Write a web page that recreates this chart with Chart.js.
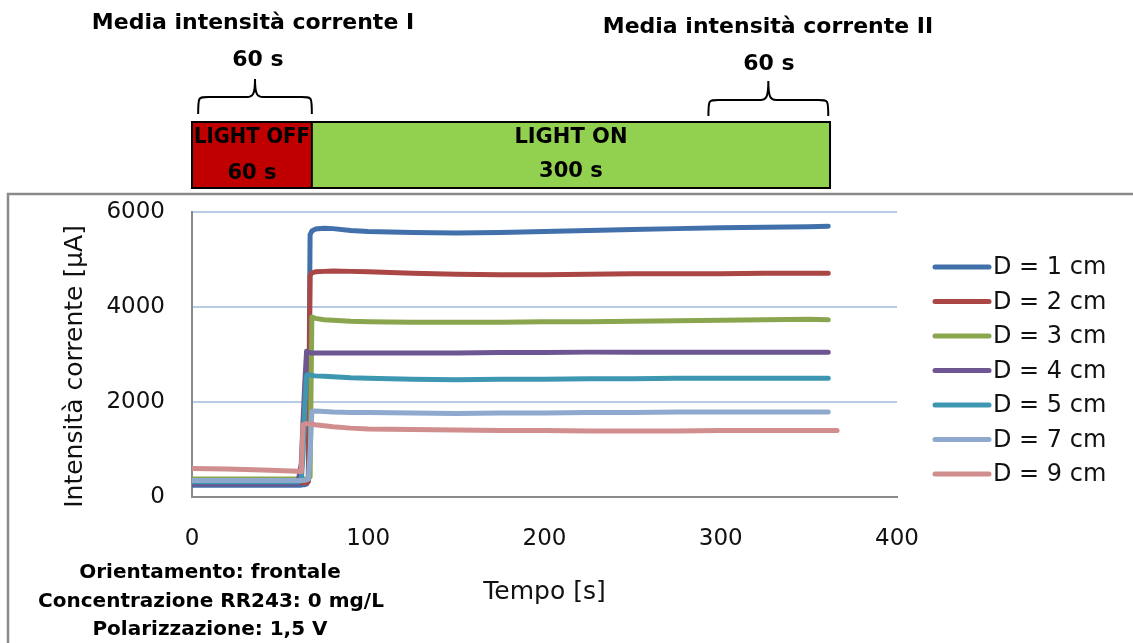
<!DOCTYPE html>
<html>
<head>
<meta charset="utf-8">
<script src="https://cdn.jsdelivr.net/npm/chart.js@4"></script>
<style>
  html, body { margin: 0; padding: 0; background: #fff; }
  #wrap { width: 1133px; height: 643px; }
</style>
</head>
<body>
<div id="wrap"><canvas id="chart" width="1133" height="643"></canvas></div>
<script>
// time base [s] shared by all series
const times = [0, 20, 40, 60, 62, 63, 64, 65, 66, 67, 68, 70, 75, 80, 90, 100, 125, 150, 175, 200, 225, 250, 275, 300, 325, 350, 361, 366];

// current [µA]
const d1 = [250, 250, 250, 250, 250, 255, 260, 270, 350, 5520, 5600, 5640, 5660, 5650, 5610, 5590, 5570, 5560, 5570, 5590, 5610, 5630, 5650, 5670, 5680, 5690, 5700, null];
const d2 = [300, 300, 300, 300, 300, 300, 300, 300, 320, 4660, 4720, 4740, 4750, 4760, 4750, 4740, 4710, 4690, 4680, 4680, 4690, 4700, 4700, 4700, 4710, 4710, 4710, null];
const d3 = [380, 380, 380, 380, 380, 380, 380, 380, 390, 420, 3790, 3760, 3730, 3720, 3700, 3690, 3680, 3680, 3680, 3690, 3690, 3700, 3710, 3720, 3730, 3740, 3730, null];
const d4 = [280, 280, 280, 280, 700, 1600, 2400, 3070, 3050, 3040, 3030, 3030, 3030, 3030, 3030, 3030, 3030, 3030, 3040, 3040, 3050, 3050, 3050, 3050, 3050, 3050, 3050, null];
const d5 = [320, 320, 320, 320, 340, 900, 1900, 2560, 2580, 2570, 2560, 2550, 2540, 2530, 2510, 2500, 2480, 2470, 2480, 2480, 2490, 2490, 2500, 2500, 2500, 2500, 2500, null];
const d7 = [350, 350, 350, 350, 350, 350, 350, 360, 380, 900, 1800, 1810, 1800, 1790, 1780, 1780, 1770, 1760, 1770, 1770, 1780, 1780, 1790, 1790, 1790, 1790, 1790, null];
const d9 = [600, 590, 570, 540, 530, 1520, 1540, 1540, 1540, 1540, 1530, 1520, 1500, 1480, 1450, 1430, 1420, 1410, 1400, 1400, 1390, 1390, 1390, 1400, 1400, 1400, 1400, 1400];

const labels = ['D = 1 cm', 'D = 2 cm', 'D = 3 cm', 'D = 4 cm', 'D = 5 cm', 'D = 7 cm', 'D = 9 cm'];
const series = [d1, d2, d3, d4, d5, d7, d9];
const colors = ['#4270aa', '#aa4644', '#89a54e', '#6e5692', '#3e97b0', '#8fa8ce', '#d18e8e'];
const yTicks = [0, 2000, 4000, 6000];
const xTicks = [0, 100, 200, 300, 400];

const FONT = "'DejaVu Sans', sans-serif";
Chart.defaults.font.family = FONT;
Chart.defaults.color = '#111';

const datasets = series.map((vals, i) => ({
    label: labels[i],
    data: vals.map((v, k) => ({ x: times[k], y: v })),
    borderColor: colors[i],
    backgroundColor: colors[i],
    borderWidth: 5,
    pointRadius: 0,
    tension: 0,
    borderCapStyle: 'round',
    borderJoinStyle: 'round',
    spanGaps: false,
    order: series.length - i   // later series on top, as in the original
}));

// grey outer frame of the chart object
const framePlugin = {
    id: 'frame',
    beforeDraw(chart) {
        const ctx = chart.ctx;
        ctx.save();
        ctx.strokeStyle = '#8a8a8a';
        ctx.lineWidth = 2.5;
        ctx.beginPath();
        ctx.moveTo(1133, 194);
        ctx.lineTo(8, 194);
        ctx.lineTo(8, 643);
        ctx.stroke();
        ctx.restore();
    }
};

// line legend at the right
const legendPlugin = {
    id: 'lineLegend',
    afterDraw(chart) {
        const ctx = chart.ctx;
        const area = chart.chartArea;
        ctx.save();
        chart.data.datasets.forEach((ds, i) => {
            const y = area.top + 55 + i * 34.5;
            ctx.strokeStyle = ds.borderColor;
            ctx.lineWidth = 5;
            ctx.lineCap = 'round';
            ctx.beginPath();
            ctx.moveTo(area.right + 38, y);
            ctx.lineTo(area.right + 92, y);
            ctx.stroke();
            ctx.fillStyle = '#111';
            ctx.font = '24px ' + FONT;
            ctx.textAlign = 'left';
            ctx.textBaseline = 'middle';
            ctx.fillText(ds.label, area.right + 96, y + 1);
        });
        ctx.restore();
    }
};

function brace(ctx, x0, x1, yTop, yMid, yEnd) {
    const xm = (x0 + x1) / 2;
    ctx.beginPath();
    ctx.moveTo(x0, yEnd);
    ctx.bezierCurveTo(x0, yMid, x0, yMid, x0 + 10, yMid);
    ctx.lineTo(xm - 8, yMid);
    ctx.bezierCurveTo(xm - 2, yMid, xm, yMid - 3, xm, yTop);
    ctx.bezierCurveTo(xm, yMid - 3, xm + 2, yMid, xm + 8, yMid);
    ctx.lineTo(x1 - 10, yMid);
    ctx.bezierCurveTo(x1, yMid, x1, yMid, x1, yEnd);
    ctx.stroke();
}

// light off / on bar, braces and notes
const notesPlugin = {
    id: 'notes',
    afterDraw(chart) {
        const ctx = chart.ctx;
        const xs = chart.scales.x;
        const px = v => xs.getPixelForValue(v);
        ctx.save();

        const top = 122, bot = 188;
        ctx.fillStyle = '#c00000';
        ctx.fillRect(px(0), top, px(68) - px(0), bot - top);
        ctx.fillStyle = '#92d050';
        ctx.fillRect(px(68), top, px(362) - px(68), bot - top);
        ctx.strokeStyle = '#000';
        ctx.lineWidth = 2;
        ctx.strokeRect(px(0), top, px(362) - px(0), bot - top);
        ctx.beginPath();
        ctx.moveTo(px(68), top);
        ctx.lineTo(px(68), bot);
        ctx.stroke();

        ctx.fillStyle = '#000';
        ctx.textAlign = 'center';
        ctx.textBaseline = 'middle';
        ctx.font = 'bold 21px ' + FONT;
        const offX = (px(0) + px(68)) / 2;
        const onX = (px(68) + px(362)) / 2;
        ctx.fillText('LIGHT OFF', offX, 138, px(68) - px(0) - 4);
        ctx.fillText('60 s', offX, 174);
        ctx.fillText('LIGHT ON', onX, 138);
        ctx.fillText('300 s', onX, 172);

        ctx.lineWidth = 2;
        brace(ctx, px(3.5), px(68), 79, 97, 114);
        brace(ctx, px(293), px(361), 81, 100, 116);

        ctx.font = 'bold 22px ' + FONT;
        ctx.fillText('Media intensità corrente I', 253, 23);
        ctx.fillText('60 s', 258, 60);
        ctx.fillText('Media intensità corrente II', 768, 27);
        ctx.fillText('60 s', 769, 64);

        ctx.font = 'bold 20px ' + FONT;
        ctx.fillText('Orientamento: frontale', 210, 573);
        ctx.fillText('Concentrazione RR243: 0 mg/L', 211, 602);
        ctx.fillText('Polarizzazione: 1,5 V', 210, 630);
        ctx.restore();
    }
};

new Chart(document.getElementById('chart'), {
    type: 'line',
    data: { datasets },
    plugins: [framePlugin, legendPlugin, notesPlugin],
    options: {
        responsive: false,
        animation: false,
        layout: { padding: { left: 60, right: 236, top: 212, bottom: 36 } },
        plugins: { legend: { display: false }, tooltip: { enabled: false } },
        scales: {
            x: {
                type: 'linear',
                min: 0,
                max: 400,
                afterFit: s => { s.height = 110; },
                afterBuildTicks: s => { s.ticks = xTicks.map(v => ({ value: v })); },
                ticks: { font: { size: 23 }, padding: 28, color: '#111', callback: v => String(v) },
                grid: { color: 'rgba(0,0,0,0)', drawTicks: false },
                border: { color: '#8a8a8a', width: 2 },
                title: { display: true, text: 'Tempo [s]', font: { size: 25 }, padding: { top: 0, bottom: 0 }, color: '#111' }
            },
            y: {
                min: 0,
                max: 6000,
                afterFit: s => { s.width = 132; },
                afterBuildTicks: s => { s.ticks = yTicks.map(v => ({ value: v })); },
                ticks: { font: { size: 23 }, padding: 27, color: '#111', callback: v => String(v) },
                grid: {
                    color: c => (c.tick && c.tick.value === 0 ? 'rgba(0,0,0,0)' : '#b8cce6'),
                    lineWidth: 2,
                    drawTicks: false
                },
                border: { color: '#8a8a8a', width: 2 },
                // trailing spaces push the title a little lower, like the original
                title: { display: true, text: 'Intensità corrente [µA]   ', font: { size: 25 }, padding: { top: 0, bottom: 0 }, color: '#111' }
            }
        }
    }
});
</script>
</body>
</html>
